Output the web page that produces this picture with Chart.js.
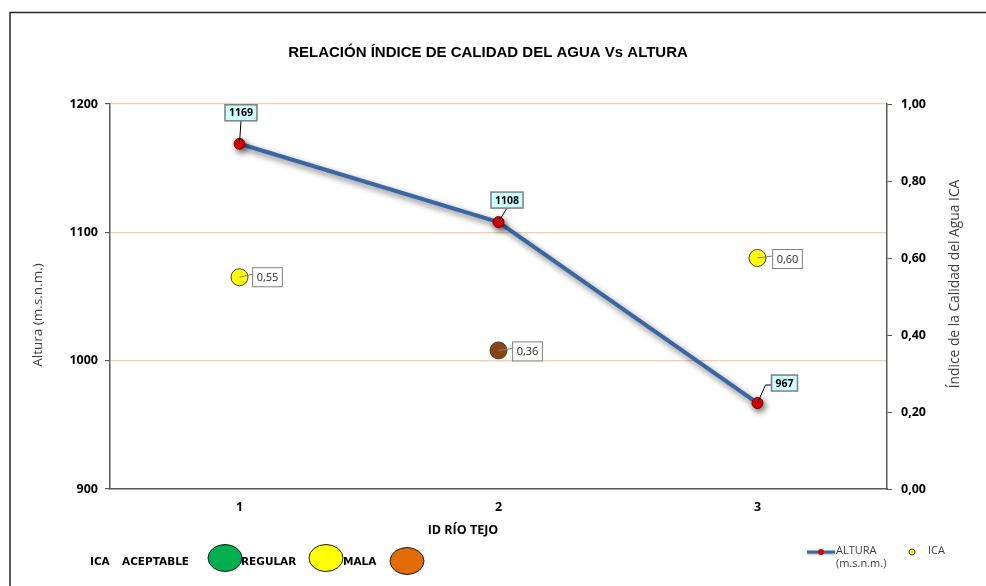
<!DOCTYPE html>
<html>
<head>
<meta charset="utf-8">
<script src="https://cdn.jsdelivr.net/npm/chart.js@4/dist/chart.umd.min.js"></script>
<style>
  html, body { margin: 0; padding: 0; background: #fff; }
  #wrap { position: relative; width: 986px; height: 586px; }
</style>
</head>
<body>
<div id="wrap"><canvas id="c"></canvas></div>
<script>
// ---- data ----
const categories = ['1', '2', '3'];
const alturaValues = [1169, 1108, 967];
const icaValues = [0.55, 0.36, 0.60];
const alturaTicks = [900, 1000, 1100, 1200];
const icaTicks = [0, 0.2, 0.4, 0.6, 0.8, 1.0];

const titleText = 'RELACIÓN ÍNDICE DE CALIDAD DEL AGUA Vs ALTURA';
const yTitle = 'Altura (m.s.n.m.)';
const y1Title = 'Índice de la Calidad del Agua ICA';
const xTitle = 'ID RÍO TEJO';
const icaLegend = ['ACEPTABLE', 'REGULAR', 'MALA'];

// ---- styles ----
const FONT = '"Open Sans", sans-serif';
const LEGFONT = '"DejaVu Sans", sans-serif';
const icaPointColors = ['#FFFF00', '#8B4513', '#FFFF00'];
const icaLegendColors = ['#00B050', '#FFFF00', '#E36C0A'];
const altLabelOffsets = [[1.5, -31], [8.5, -22], [27, -20]];
const icaLabelOffsets = [[28, 0], [29, 1], [30, 1]];

const fmtComma = (v, d) => v.toFixed(d).replace('.', ',');

const shadowPlugin = {
  id: 'lineShadow',
  beforeDatasetDraw(chart, args) {
    if (args.index === 0) {
      const ctx = chart.ctx;
      ctx.save();
      ctx.shadowColor = 'rgba(0,0,0,0.55)';
      ctx.shadowBlur = 6;
      ctx.shadowOffsetX = 2;
      ctx.shadowOffsetY = 3;
    }
  },
  afterDatasetDraw(chart, args) {
    if (args.index === 0) chart.ctx.restore();
  }
};

const decorPlugin = {
  id: 'decor',
  beforeDraw(chart) {
    const ctx = chart.ctx;
    ctx.save();
    ctx.fillStyle = '#fff';
    ctx.fillRect(0, 0, chart.width, chart.height);
    ctx.strokeStyle = '#262626';
    ctx.lineWidth = 1.5;
    ctx.strokeRect(10, 12.5, 1200, 1200);
    ctx.restore();
  },
  afterDraw(chart) {
    const ctx = chart.ctx;
    ctx.save();
    // Title
    ctx.fillStyle = '#000';
    ctx.font = 'bold 15px "Liberation Sans", Arial, sans-serif';
    ctx.textAlign = 'center';
    ctx.textBaseline = 'middle';
    ctx.fillText(titleText, 488, 53);

    // Axis titles
    ctx.fillStyle = '#404040';
    ctx.font = '13.5px ' + FONT;
    ctx.save();
    ctx.translate(38, 315);
    ctx.rotate(-Math.PI / 2);
    ctx.fillText(yTitle, 0, 0);
    ctx.restore();
    ctx.font = '13.8px ' + FONT;
    ctx.save();
    ctx.translate(955, 284);
    ctx.rotate(-Math.PI / 2);
    ctx.fillText(y1Title, 0, 0);
    ctx.restore();

    ctx.fillStyle = '#000';
    ctx.font = 'bold 12.5px ' + FONT;
    ctx.fillText(xTitle, 463, 530);

    // Bottom-left ICA legend
    ctx.textAlign = 'left';
    const items = [
      { text: icaLegend[0], tx: 122, cx: 225, cy: 558 },
      { text: icaLegend[1], tx: 241, cx: 326, cy: 558 },
      { text: icaLegend[2], tx: 343, cx: 407, cy: 561 }
    ];
    items.forEach((it, i) => {
      ctx.beginPath();
      ctx.ellipse(it.cx, it.cy, 17, 13.5, 0, 0, Math.PI * 2);
      ctx.fillStyle = icaLegendColors[i];
      ctx.fill();
      ctx.strokeStyle = '#1a1a1a';
      ctx.lineWidth = 1;
      ctx.stroke();
    });
    ctx.font = 'bold 10.5px ' + LEGFONT;
    ctx.fillStyle = '#000';
    ctx.fillText('ICA', 90, 562);
    items.forEach((it) => {
      ctx.fillText(it.text, it.tx, 562);
    });

    // Bottom-right series legend
    const ds0 = chart.data.datasets[0];
    const ds1 = chart.data.datasets[1];
    ctx.save();
    ctx.shadowColor = 'rgba(0,0,0,0.35)';
    ctx.shadowBlur = 2;
    ctx.shadowOffsetY = 1;
    ctx.strokeStyle = ds0.borderColor;
    ctx.lineWidth = 3;
    ctx.beginPath();
    ctx.moveTo(807, 552);
    ctx.lineTo(835, 552);
    ctx.stroke();
    ctx.restore();
    ctx.beginPath();
    ctx.arc(821, 552, 3, 0, Math.PI * 2);
    ctx.fillStyle = ds0.pointBackgroundColor;
    ctx.fill();
    ctx.fillStyle = '#404040';
    ctx.font = '11px ' + FONT;
    ctx.fillText(ds0.label[0], 836, 551);
    ctx.fillText(ds0.label[1], 836, 564);
    ctx.beginPath();
    ctx.arc(912, 552, 3, 0, Math.PI * 2);
    ctx.fillStyle = '#FFFF00';
    ctx.fill();
    ctx.strokeStyle = '#333';
    ctx.lineWidth = 1;
    ctx.stroke();
    ctx.fillStyle = '#404040';
    ctx.fillText(ds1.label, 928, 551);

    ctx.restore();
  },
  afterDatasetsDraw(chart) {
    const ctx = chart.ctx;
    ctx.save();
    ctx.textAlign = 'center';
    ctx.textBaseline = 'middle';
    // Altura labels
    const m0 = chart.getDatasetMeta(0);
    m0.data.forEach((pt, i) => {
      const [dx, dy] = altLabelOffsets[i];
      const txt = String(alturaValues[i]);
      ctx.font = 'bold 10.5px ' + FONT;
      const w = ctx.measureText(txt).width + 8;
      const h = 16;
      const cx = pt.x + dx, cy = pt.y + dy;
      // leader
      ctx.strokeStyle = '#000';
      ctx.lineWidth = 1;
      ctx.beginPath();
      ctx.moveTo(pt.x, pt.y);
      if (dx > 15) {
        ctx.lineTo(cx - w / 2 - 6, cy + 2);
        ctx.lineTo(cx - w / 2, cy + 2);
      } else {
        ctx.lineTo(cx, cy + h / 2);
      }
      ctx.stroke();
      ctx.fillStyle = '#CCFFFF';
      ctx.fillRect(cx - w / 2, cy - h / 2, w, h);
      ctx.strokeStyle = '#7F7F7F';
      ctx.lineWidth = 1.5;
      ctx.strokeRect(cx - w / 2, cy - h / 2, w, h);
      ctx.fillStyle = '#000';
      ctx.fillText(txt, cx, cy + 0.5);
    });
    // ICA labels
    const m1 = chart.getDatasetMeta(1);
    m1.data.forEach((pt, i) => {
      const [dx, dy] = icaLabelOffsets[i];
      const txt = fmtComma(icaValues[i], 2);
      ctx.font = '11px ' + FONT;
      const w = ctx.measureText(txt).width + 8;
      const h = 19;
      const cx = pt.x + dx, cy = pt.y + dy;
      ctx.strokeStyle = '#7F7F7F';
      ctx.lineWidth = 1;
      ctx.beginPath();
      ctx.moveTo(pt.x, pt.y);
      ctx.lineTo(cx - w / 2, cy - 3);
      ctx.stroke();
      ctx.fillStyle = '#fff';
      ctx.fillRect(cx - w / 2, cy - h / 2, w, h);
      ctx.strokeRect(cx - w / 2, cy - h / 2, w, h);
      ctx.fillStyle = '#262626';
      ctx.fillText(txt, cx, cy + 0.5);
    });
    ctx.restore();
  }
};

new Chart(document.getElementById('c'), {
  type: 'line',
  data: {
    labels: categories,
    datasets: [
      {
        label: ['ALTURA', '(m.s.n.m.)'],
        data: alturaValues,
        yAxisID: 'y',
        borderColor: '#3A67A3',
        borderWidth: 4,
        pointRadius: 5.5,
        pointHoverRadius: 5.5,
        pointBackgroundColor: '#E00000',
        pointBorderColor: '#7A0000',
        pointBorderWidth: 1,
        tension: 0,
        order: 2
      },
      {
        label: 'ICA',
        data: icaValues,
        yAxisID: 'y1',
        showLine: false,
        pointRadius: 8.5,
        pointHoverRadius: 8.5,
        pointBackgroundColor: icaPointColors,
        pointBorderColor: '#404040',
        pointBorderWidth: 1,
        order: 1
      }
    ]
  },
  options: {
    responsive: true,
    maintainAspectRatio: false,
    animation: false,
    events: [],
    layout: { padding: { top: 104, left: 0, right: 0, bottom: 0 } },
    plugins: {
      legend: { display: false },
      title: { display: false },
      tooltip: { enabled: false }
    },
    scales: {
      x: {
        offset: true,
        grid: { display: false, drawTicks: false },
        border: { display: true, color: '#595959', width: 1.5 },
        ticks: { color: '#000', font: { family: FONT, weight: 'bold', size: 12.5 }, padding: 11 },
        afterFit(s) { s.height = 97; }
      },
      y: {
        position: 'left',
        min: 900, max: 1200,
        afterBuildTicks(s) { s.ticks = alturaTicks.map(v => ({ value: v })); },
        grid: {
          color: (c) => (c.tick && c.tick.value === 900) ? 'rgba(0,0,0,0)' : '#F8CBAD',
          lineWidth: 1.2,
          tickColor: '#595959',
          tickLength: 5
        },
        border: { display: true, color: '#595959', width: 1.5 },
        ticks: {
          color: '#000',
          font: { family: FONT, weight: 'bold', size: 12.5 },
          padding: 7,
          callback: (v) => String(v)
        },
        afterFit(s) { s.width = 110; }
      },
      y1: {
        position: 'right',
        min: 0, max: 1,
        afterBuildTicks(s) { s.ticks = icaTicks.map(v => ({ value: v })); },
        grid: { drawOnChartArea: false, tickColor: '#595959', tickLength: 5 },
        border: { display: true, color: '#595959', width: 1.5 },
        ticks: {
          color: '#000',
          font: { family: FONT, weight: 'bold', size: 12.5 },
          padding: 9,
          callback: (v) => fmtComma(Number(v), 2)
        },
        afterFit(s) { s.width = 99; }
      }
    }
  },
  plugins: [shadowPlugin, decorPlugin]
});
</script>
</body>
</html>
